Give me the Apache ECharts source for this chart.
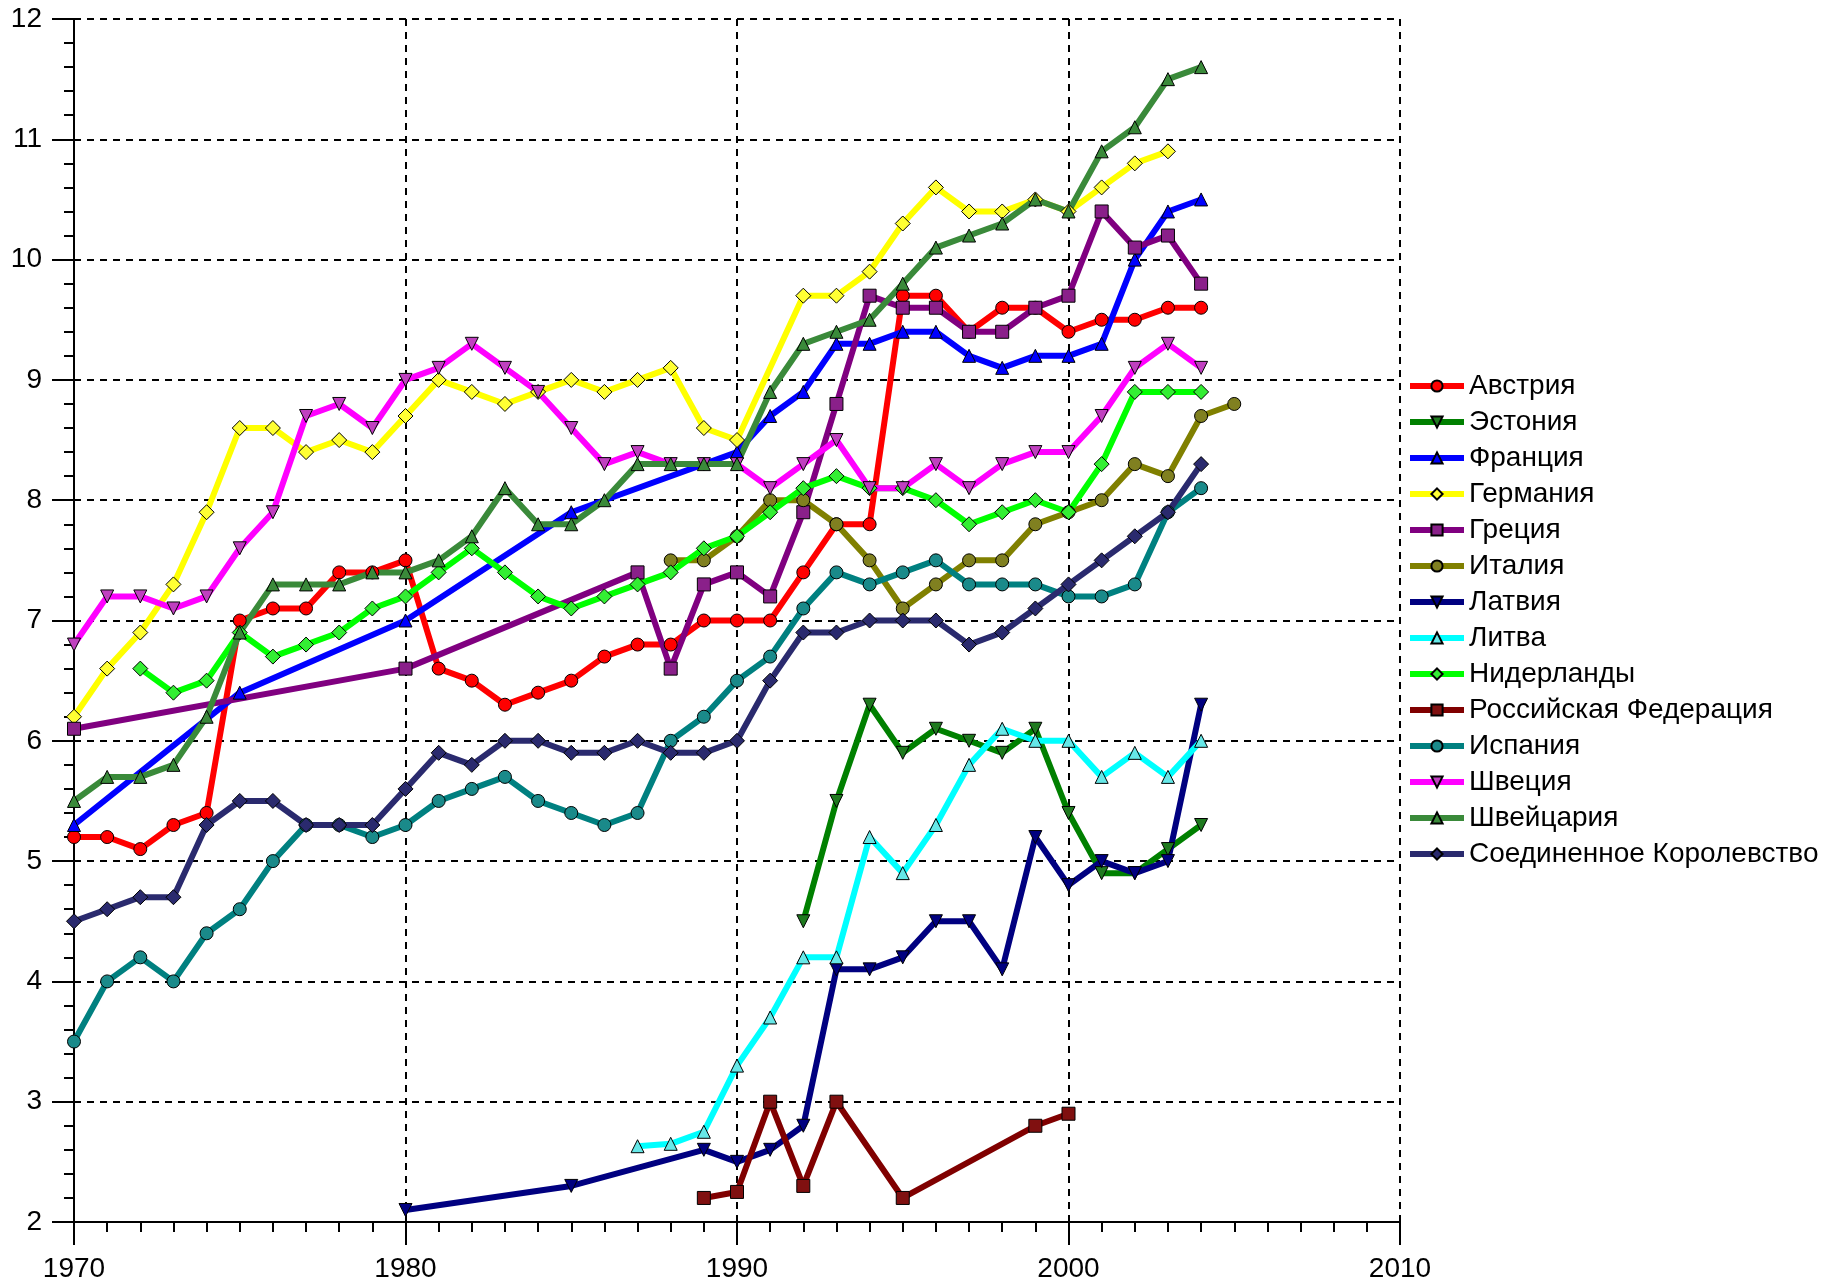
<!DOCTYPE html>
<html>
<head>
<meta charset="utf-8">
<script src="https://cdn.jsdelivr.net/npm/echarts@6/dist/echarts.min.js"></script>
<style>
  html, body { margin: 0; padding: 0; background: #fff; }
  #main { width: 1821px; height: 1283px; }
</style>
</head>
<body>
<div id="main"></div>
<script>
// values, [year, value]
const austria = [[1970,5.2],[1971,5.2],[1972,5.1],[1973,5.3],[1974,5.4],[1975,7.0],[1976,7.1],[1977,7.1],[1978,7.4],[1979,7.4],[1980,7.5],[1981,6.6],[1982,6.5],[1983,6.3],[1984,6.4],[1985,6.5],[1986,6.7],[1987,6.8],[1988,6.8],[1989,7.0],[1990,7.0],[1991,7.0],[1992,7.4],[1993,7.8],[1994,7.8],[1995,9.7],[1996,9.7],[1997,9.4],[1998,9.6],[1999,9.6],[2000,9.4],[2001,9.5],[2002,9.5],[2003,9.6],[2004,9.6]]
const estonia = [[1992,4.5],[1993,5.5],[1994,6.3],[1995,5.9],[1996,6.1],[1997,6.0],[1998,5.9],[1999,6.1],[2000,5.4],[2001,4.9],[2002,4.9],[2003,5.1],[2004,5.3]]
const france = [[1970,5.3],[1975,6.4],[1980,7.0],[1985,7.9],[1990,8.4],[1991,8.7],[1992,8.9],[1993,9.3],[1994,9.3],[1995,9.4],[1996,9.4],[1997,9.2],[1998,9.1],[1999,9.2],[2000,9.2],[2001,9.3],[2002,10.0],[2003,10.4],[2004,10.5]]
const germany = [[1970,6.2],[1971,6.6],[1972,6.9],[1973,7.3],[1974,7.9],[1975,8.6],[1976,8.6],[1977,8.4],[1978,8.5],[1979,8.4],[1980,8.7],[1981,9.0],[1982,8.9],[1983,8.8],[1984,8.9],[1985,9.0],[1986,8.9],[1987,9.0],[1988,9.1],[1989,8.6],[1990,8.5],[1992,9.7],[1993,9.7],[1994,9.9],[1995,10.3],[1996,10.6],[1997,10.4],[1998,10.4],[1999,10.5],[2000,10.4],[2001,10.6],[2002,10.8],[2003,10.9]]
const greece = [[1970,6.1],[1980,6.6],[1987,7.4],[1988,6.6],[1989,7.3],[1990,7.4],[1991,7.2],[1992,7.9],[1993,8.8],[1994,9.7],[1995,9.6],[1996,9.6],[1997,9.4],[1998,9.4],[1999,9.6],[2000,9.7],[2001,10.4],[2002,10.1],[2003,10.2],[2004,9.8]]
const italy = [[1988,7.5],[1989,7.5],[1990,7.7],[1991,8.0],[1992,8.0],[1993,7.8],[1994,7.5],[1995,7.1],[1996,7.3],[1997,7.5],[1998,7.5],[1999,7.8],[2000,7.9],[2001,8.0],[2002,8.3],[2003,8.2],[2004,8.7],[2005,8.8]]
const latvia = [[1980,2.1],[1985,2.3],[1989,2.6],[1990,2.5],[1991,2.6],[1992,2.8],[1993,4.1],[1994,4.1],[1995,4.2],[1996,4.5],[1997,4.5],[1998,4.1],[1999,5.2],[2000,4.8],[2001,5.0],[2002,4.9],[2003,5.0],[2004,6.3]]
const lithuania = [[1987,2.63],[1988,2.65],[1989,2.75],[1990,3.3],[1991,3.7],[1992,4.2],[1993,4.2],[1994,5.2],[1995,4.9],[1996,5.3],[1997,5.8],[1998,6.1],[1999,6.0],[2000,6.0],[2001,5.7],[2002,5.9],[2003,5.7],[2004,6.0]]
const netherlands = [[1972,6.6],[1973,6.4],[1974,6.5],[1975,6.9],[1976,6.7],[1977,6.8],[1978,6.9],[1979,7.1],[1980,7.2],[1981,7.4],[1982,7.6],[1983,7.4],[1984,7.2],[1985,7.1],[1986,7.2],[1987,7.3],[1988,7.4],[1989,7.6],[1990,7.7],[1991,7.9],[1992,8.1],[1993,8.2],[1994,8.1],[1995,8.1],[1996,8.0],[1997,7.8],[1998,7.9],[1999,8.0],[2000,7.9],[2001,8.3],[2002,8.9],[2003,8.9],[2004,8.9]]
const russia = [[1989,2.2],[1990,2.25],[1991,3.0],[1992,2.3],[1993,3.0],[1995,2.2],[1999,2.8],[2000,2.9]]
const spain = [[1970,3.5],[1971,4.0],[1972,4.2],[1973,4.0],[1974,4.4],[1975,4.6],[1976,5.0],[1977,5.3],[1978,5.3],[1979,5.2],[1980,5.3],[1981,5.5],[1982,5.6],[1983,5.7],[1984,5.5],[1985,5.4],[1986,5.3],[1987,5.4],[1988,6.0],[1989,6.2],[1990,6.5],[1991,6.7],[1992,7.1],[1993,7.4],[1994,7.3],[1995,7.4],[1996,7.5],[1997,7.3],[1998,7.3],[1999,7.3],[2000,7.2],[2001,7.2],[2002,7.3],[2003,7.9],[2004,8.1]]
const sweden = [[1970,6.8],[1971,7.2],[1972,7.2],[1973,7.1],[1974,7.2],[1975,7.6],[1976,7.9],[1977,8.7],[1978,8.8],[1979,8.6],[1980,9.0],[1981,9.1],[1982,9.3],[1983,9.1],[1984,8.9],[1985,8.6],[1986,8.3],[1987,8.4],[1988,8.3],[1989,8.3],[1990,8.3],[1991,8.1],[1992,8.3],[1993,8.5],[1994,8.1],[1995,8.1],[1996,8.3],[1997,8.1],[1998,8.3],[1999,8.4],[2000,8.4],[2001,8.7],[2002,9.1],[2003,9.3],[2004,9.1]]
const switzerland = [[1970,5.5],[1971,5.7],[1972,5.7],[1973,5.8],[1974,6.2],[1975,6.9],[1976,7.3],[1977,7.3],[1978,7.3],[1979,7.4],[1980,7.4],[1981,7.5],[1982,7.7],[1983,8.1],[1984,7.8],[1985,7.8],[1986,8.0],[1987,8.3],[1988,8.3],[1989,8.3],[1990,8.3],[1991,8.9],[1992,9.3],[1993,9.4],[1994,9.5],[1995,9.8],[1996,10.1],[1997,10.2],[1998,10.3],[1999,10.5],[2000,10.4],[2001,10.9],[2002,11.1],[2003,11.5],[2004,11.6]]
const uk = [[1970,4.5],[1971,4.6],[1972,4.7],[1973,4.7],[1974,5.3],[1975,5.5],[1976,5.5],[1977,5.3],[1978,5.3],[1979,5.3],[1980,5.6],[1981,5.9],[1982,5.8],[1983,6.0],[1984,6.0],[1985,5.9],[1986,5.9],[1987,6.0],[1988,5.9],[1989,5.9],[1990,6.0],[1991,6.5],[1992,6.9],[1993,6.9],[1994,7.0],[1995,7.0],[1996,7.0],[1997,6.8],[1998,6.9],[1999,7.1],[2000,7.3],[2001,7.5],[2002,7.7],[2003,7.9],[2004,8.3]]

const xTicks = [1970, 1980, 1990, 2000, 2010]
const yTicks = [2, 3, 4, 5, 6, 7, 8, 9, 10, 11, 12]

const DOWN = 'path://M0,0 L10,0 L5,10 Z'

// name, data, line colour, marker, marker fill
const countries = [
    ['Австрия', austria, '#ff0000', 'circle', '#ff0000'],
    ['Эстония', estonia, '#008000', DOWN, '#1f7a1f'],
    ['Франция', france, '#0000ff', 'triangle', '#0000ff'],
    ['Германия', germany, '#ffff00', 'diamond', '#ffff33'],
    ['Греция', greece, '#800080', 'rect', '#8a208a'],
    ['Италия', italy, '#808000', 'circle', '#808020'],
    ['Латвия', latvia, '#000080', DOWN, '#000080'],
    ['Литва', lithuania, '#00ffff', 'triangle', '#66e8e8'],
    ['Нидерланды', netherlands, '#00ff00', 'diamond', '#33ee33'],
    ['Российская Федерация', russia, '#800000', 'rect', '#801010'],
    ['Испания', spain, '#008080', 'circle', '#1a8a8a'],
    ['Швеция', sweden, '#ff00ff', DOWN, '#c040c0'],
    ['Швейцария', switzerland, '#3a8a3a', 'triangle', '#3a8a3a'],
    ['Соединенное Королевство', uk, '#2a2a6e', 'diamond', '#2a2a6e']
]

const font = "'Liberation Sans', Arial, sans-serif"

let myChart = echarts.init(document.getElementById('main'))
let option = {
    animation: false,
    backgroundColor: '#ffffff',
    grid: { left: 74, top: 19, width: 1326, height: 1203 },
    legend: {
        orient: 'vertical',
        left: 1402,
        top: 367,
        itemWidth: 54,
        itemHeight: 14,
        itemGap: 8,
        lineStyle: { width: 6 },
        textStyle: { fontFamily: font, fontSize: 28, color: '#000' },
        data: countries.map(c => c[0])
    },
    xAxis: {
        type: 'value',
        min: xTicks[0],
        max: xTicks[xTicks.length - 1],
        interval: 10,
        axisLine: { onZero: false, lineStyle: { color: '#000', width: 2 } },
        axisTick: { length: 23, lineStyle: { color: '#000', width: 2 } },
        minorTick: { show: true, splitNumber: 10, length: 10, lineStyle: { color: '#000', width: 2 } },
        axisLabel: { margin: 33, fontFamily: font, fontSize: 28, color: '#000', formatter: v => String(v) },
        splitLine: { show: true, lineStyle: { color: '#000', width: 2, type: [7, 6] } }
    },
    yAxis: {
        type: 'value',
        min: yTicks[0],
        max: yTicks[yTicks.length - 1],
        interval: 1,
        axisLine: { show: true, onZero: false, lineStyle: { color: '#000', width: 2 } },
        axisTick: { show: true, length: 22, lineStyle: { color: '#000', width: 2 } },
        minorTick: { show: true, splitNumber: 5, length: 10, lineStyle: { color: '#000', width: 2 } },
        axisLabel: { margin: 32, fontFamily: font, fontSize: 28, color: '#000' },
        splitLine: { show: true, lineStyle: { color: '#000', width: 2, type: [7, 6] } }
    },
    series: []
}

countries.forEach(c => {
    option.series.push({
        name: c[0],
        type: 'line',
        data: c[1],
        symbol: c[3],
        symbolSize: c[3] === 'diamond' ? 15 : 13,
        showAllSymbol: true,
        lineStyle: { color: c[2], width: 6 },
        itemStyle: { color: c[4], borderColor: '#000', borderWidth: 1 }
    })
})

myChart.setOption(option)
</script>
</body>
</html>
